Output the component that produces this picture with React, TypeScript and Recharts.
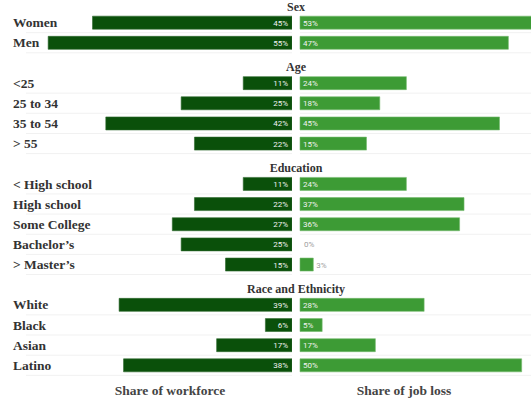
import { BarChart, Bar, XAxis, YAxis, LabelList } from "recharts";

const groupNames = ["Sex", "Age", "Education", "Race and Ethnicity"];
const groupItems = [
  ["Women", "Men"],
  ["<25", "25 to 34", "35 to 54", "> 55"],
  ["< High school", "High school", "Some College", "Bachelor’s", "> Master’s"],
  ["White", "Black", "Asian", "Latino"],
];
const workforceShare = [
  [45, 55],
  [11, 25, 42, 22],
  [11, 22, 27, 25, 15],
  [39, 6, 17, 38],
];
const jobLossShare = [
  [53, 47],
  [24, 18, 45, 15],
  [24, 37, 36, 0, 3],
  [28, 5, 17, 50],
];

type Row = {
  key: string;
  label: string;
  kind: "header" | "item";
  workforce?: number;
  jobLoss?: number;
};

const rows: Row[] = [];
groupNames.forEach((g, gi) => {
  rows.push({ key: "h-" + g, label: g, kind: "header" });
  groupItems[gi].forEach((item, i) => {
    rows.push({
      key: "i-" + item,
      label: item,
      kind: "item",
      workforce: workforceShare[gi][i],
      jobLoss: jobLossShare[gi][i],
    });
  });
});

const byKey: Record<string, Row> = {};
rows.forEach((r) => (byKey[r.key] = r));

const SERIF = "'Liberation Serif', 'Times New Roman', serif";
const SANS = "Roboto, 'Liberation Sans', sans-serif";
const DARK = "#0a500a";
const LIGHT = "#3d9b35";
const MUTED = "#9e9e9e";
const CHART_H = 413;
const BAR = 13;
const RIGHT_AXIS_W = 60;

function RowLine(props: any) {
  const { x, y, width, height, payload } = props;
  if (!payload || payload.kind !== "item") return <g />;
  const ly = y + height + 3.5;
  return <line x1={x} x2={x + width + 10} y1={ly} y2={ly} stroke="#f1f1f1" strokeWidth={1} />;
}

function LeftValue(props: any) {
  const { x, y, width, height, value } = props;
  if (value == null) return null;
  const right = Math.max(x, x + width);
  return (
    <text x={right - 4} y={y + height / 2 + 3} textAnchor="end" fontFamily={SANS} fontSize={8} fill="#f2f2f2">
      {value}%
    </text>
  );
}

function RightValue(props: any) {
  const { x, y, width, height, value } = props;
  if (value == null) return null;
  const outside = value < 5;
  return (
    <text
      x={outside ? x + Math.abs(width) + 3 : x + 3}
      y={y + height / 2 + 3}
      textAnchor="start"
      fontFamily={SANS}
      fontSize={8}
      fill={outside ? MUTED : "#f2f2f2"}
    >
      {value}%
    </text>
  );
}

function ItemTick(props: any) {
  const { y, payload } = props;
  const row = byKey[payload.value];
  if (!row || row.kind !== "item") return <g />;
  return (
    <text x={13} y={y + 5} fontFamily={SERIF} fontWeight="bold" fontSize={13.5} fill="#333">
      {row.label}
    </text>
  );
}

// group headers sit between the two halves; zero-width bars get their label here too
function RightTick(props: any) {
  const { y, payload } = props;
  const row = byKey[payload.value];
  if (!row) return <g />;
  if (row.kind === "header") {
    return (
      <text x={56} y={y + 8.6} textAnchor="middle" fontFamily={SERIF} fontWeight="bold" fontSize={12} fill="#333">
        {row.label}
      </text>
    );
  }
  if (row.jobLoss === 0) {
    return (
      <text x={RIGHT_AXIS_W + 4} y={y + 3} fontFamily={SANS} fontSize={8} fill={MUTED}>
        {row.jobLoss}%
      </text>
    );
  }
  return <g />;
}

export default function App() {
  return (
    <div
      style={{
        position: "fixed",
        left: 0,
        top: 0,
        width: 531,
        height: 400,
        overflow: "hidden",
        background: "#fff",
      }}
    >
      <div style={{ position: "absolute", left: 0, top: -8 }}>
        <BarChart
          width={292}
          height={CHART_H}
          data={rows}
          layout="vertical"
          margin={{ top: 0, right: 0, bottom: 0, left: 0 }}
          barSize={BAR}
        >
          <XAxis
            type="number"
            domain={[0, 60]}
            reversed
            tick={false}
            axisLine={false}
            tickLine={false}
            height={30}
            label={{
              value: "Share of workforce",
              position: "insideBottom",
              offset: 10,
              dx: 11,
              fontFamily: SERIF,
              fontWeight: "bold",
              fontSize: 13.5,
              fill: "#444",
            }}
          />
          <YAxis
            type="category"
            dataKey="key"
            width={26}
            axisLine={false}
            tickLine={false}
            interval={0}
            tick={ItemTick}
          />
          <Bar
            dataKey="workforce"
            fill={DARK}
            stroke="#2f6a2f"
            strokeWidth={0.6}
            isAnimationActive={false}
            background={RowLine}
          >
            <LabelList dataKey="workforce" content={LeftValue} />
          </Bar>
        </BarChart>
      </div>
      <div style={{ position: "absolute", left: 240.3, top: -8 }}>
        <BarChart
          width={326}
          height={CHART_H}
          data={rows}
          layout="vertical"
          margin={{ top: 0, right: 0, bottom: 0, left: 0 }}
          barSize={BAR}
        >
          <XAxis
            type="number"
            domain={[0, 60]}
            tick={false}
            axisLine={false}
            tickLine={false}
            height={30}
            label={{
              value: "Share of job loss",
              position: "insideBottom",
              offset: 10,
              dx: -29,
              fontFamily: SERIF,
              fontWeight: "bold",
              fontSize: 13.5,
              fill: "#444",
            }}
          />
          <YAxis
            type="category"
            dataKey="key"
            width={RIGHT_AXIS_W}
            axisLine={false}
            tickLine={false}
            interval={0}
            tick={RightTick}
          />
          <Bar
            dataKey="jobLoss"
            fill={LIGHT}
            stroke="#76bb6f"
            strokeWidth={0.6}
            isAnimationActive={false}
            background={RowLine}
          >
            <LabelList dataKey="jobLoss" content={RightValue} />
          </Bar>
        </BarChart>
      </div>
    </div>
  );
}
